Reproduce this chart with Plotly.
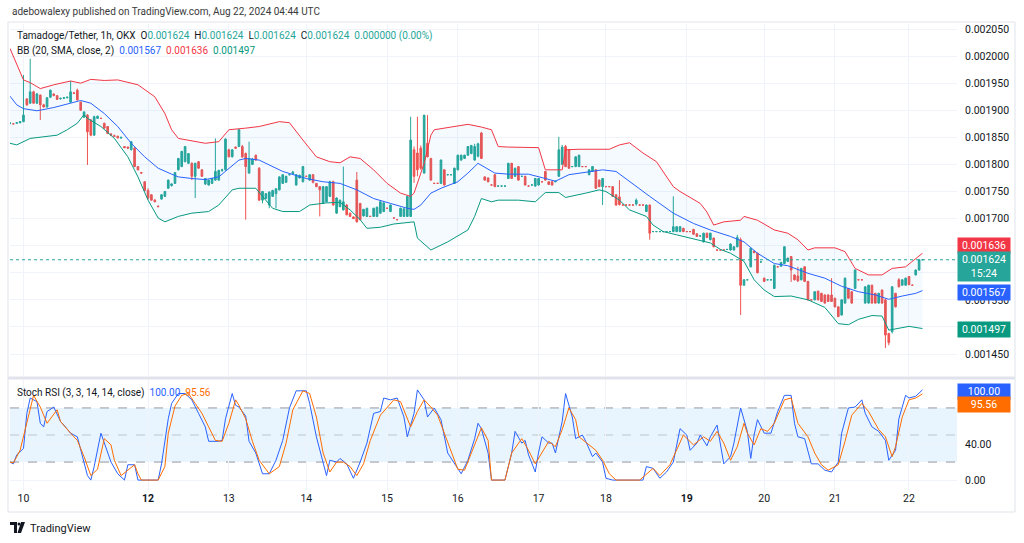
import numpy as np
import plotly.graph_objects as go

# ---------------- data (prices in units of 1e-6 USDT) ----------------
PRICE_UNIT = 1e-6

OPEN = [1876,1875,1876,1877,1879,1921,1913,1934,1913,1928,
        1910,1906,1924,1930,1927,1921,1922,1923,1915,1932,
        1937,1915,1887,1891,1882,1854,1885,1885,1876,1870,
        1856,1853,1852,1849,1833,1832,1827,1830,1796,1785,
        1768,1752,1744,1734,1723,1736,1741,1756,1761,1765,
        1790,1796,1805,1802,1802,1778,1805,1790,1764,1762,
        1765,1771,1771,1789,1790,1827,1814,1832,1833,1833,
        1820,1784,1800,1817,1793,1734,1737,1725,1741,1746,
        1753,1765,1767,1781,1783,1762,1775,1768,1778,1771,
        1781,1765,1759,1728,1731,1741,1768,1710,1722,1716,
        1725,1710,1703,1771,1728,1705,1704,1704,1704,1704,
        1710,1713,1719,1713,1701,1698,1704,1704,1704,1704,
        1827,1821,1830,1784,1839,1811,1765,1765,1765,1790,
        1781,1781,1765,1790,1808,1811,1817,1820,1808,1815,
        1858,1777,1775,1762,1781,1760,1760,1760,1774,1802,
        1778,1796,1778,1778,1760,1762,1760,1762,1768,1787,
        1768,1768,1768,1778,1800,1833,1827,1796,1796,1796,
        1796,1796,1781,1787,1790,1771,1759,1759,1759,1759,
        1744,1740,1725,1725,1725,1725,1727,1725,1725,1713,
        1725,1676,1676,1676,1676,1676,1676,1676,1676,1676,
        1682,1676,1676,1680,1672,1668,1657,1673,1661,1664,
        1642,1642,1642,1643,1642,1642,1648,1661,1577,1587,
        1611,1640,1636,1620,1590,1587,1587,1571,1611,1612,
        1617,1621,1630,1596,1594,1587,1611,1584,1550,1550,
        1566,1562,1559,1559,1559,1553,1537,1522,1544,1571,
        1565,1571,1587,1587,1544,1544,1577,1562,1544,1568,
        1550,1488,1491,1562,1587,1577,1577,1593,1577,1596,
        1605,1624]
HIGH = [1878,1876,1878,1880,1965,1922,1995,1936,1932,1929,
        1912,1924,1938,1931,1928,1923,1924,1925,1954,1934,
        1940,1916,1898,1893,1884,1890,1890,1886,1877,1871,
        1858,1855,1853,1851,1834,1833,1843,1832,1797,1786,
        1769,1756,1745,1736,1724,1745,1751,1772,1765,1786,
        1812,1825,1834,1821,1804,1803,1806,1791,1775,1772,
        1775,1848,1790,1792,1848,1829,1828,1833,1865,1836,
        1822,1842,1812,1818,1795,1751,1747,1750,1753,1756,
        1778,1782,1779,1782,1788,1782,1781,1797,1779,1782,
        1782,1766,1760,1760,1760,1770,1770,1739,1735,1796,
        1727,1711,1704,1786,1729,1718,1720,1705,1720,1722,
        1732,1730,1720,1726,1702,1699,1720,1719,1742,1888,
        1833,1888,1835,1891,1891,1812,1766,1766,1809,1791,
        1782,1782,1794,1818,1818,1818,1834,1836,1838,1840,
        1860,1778,1776,1763,1782,1761,1761,1761,1803,1803,
        1794,1797,1779,1779,1761,1763,1775,1775,1769,1788,
        1769,1769,1770,1851,1836,1836,1828,1797,1815,1818,
        1797,1797,1791,1797,1791,1772,1775,1760,1760,1760,
        1745,1771,1726,1726,1726,1726,1737,1726,1726,1726,
        1726,1677,1677,1677,1677,1677,1677,1741,1686,1686,
        1683,1677,1677,1681,1673,1669,1674,1674,1674,1665,
        1643,1643,1643,1644,1654,1648,1670,1665,1588,1588,
        1646,1641,1637,1621,1591,1588,1588,1615,1612,1620,
        1649,1628,1631,1597,1611,1609,1612,1585,1551,1566,
        1567,1563,1560,1560,1590,1554,1538,1551,1591,1572,
        1566,1606,1588,1588,1575,1578,1578,1563,1563,1569,
        1552,1489,1575,1563,1590,1588,1591,1594,1578,1606,
        1625,1624]
LOW = [1874,1874,1875,1876,1878,1908,1912,1912,1912,1882,
       1905,1905,1923,1926,1919,1920,1921,1922,1914,1930,
       1918,1899,1886,1799,1852,1853,1884,1884,1866,1856,
       1853,1851,1848,1847,1830,1829,1826,1795,1789,1783,
       1750,1735,1733,1730,1721,1735,1740,1755,1759,1764,
       1789,1795,1804,1801,1771,1738,1792,1777,1762,1761,
       1764,1770,1770,1786,1789,1813,1813,1829,1832,1812,
       1698,1783,1799,1807,1733,1728,1736,1719,1740,1719,
       1752,1764,1766,1780,1781,1761,1774,1767,1777,1770,
       1765,1758,1704,1727,1730,1740,1724,1709,1721,1715,
       1706,1703,1699,1693,1697,1704,1703,1703,1703,1703,
       1709,1712,1718,1712,1700,1697,1703,1703,1703,1703,
       1766,1778,1790,1783,1813,1770,1764,1764,1764,1761,
       1780,1780,1764,1789,1807,1810,1816,1819,1807,1813,
       1810,1770,1767,1761,1758,1759,1759,1759,1773,1773,
       1777,1770,1777,1761,1759,1761,1759,1761,1767,1770,
       1762,1761,1767,1777,1799,1795,1792,1795,1795,1795,
       1795,1795,1780,1786,1755,1758,1725,1758,1758,1740,
       1724,1724,1724,1724,1724,1724,1724,1724,1724,1712,
       1661,1675,1675,1675,1675,1675,1675,1675,1675,1675,
       1675,1675,1675,1670,1666,1667,1656,1664,1660,1647,
       1641,1641,1641,1642,1641,1641,1647,1522,1576,1586,
       1610,1636,1599,1619,1583,1586,1586,1570,1610,1611,
       1616,1620,1583,1586,1583,1586,1583,1549,1549,1549,
       1549,1546,1543,1546,1546,1536,1518,1521,1543,1552,
       1543,1570,1586,1586,1543,1543,1543,1543,1543,1543,
       1461,1466,1488,1536,1573,1576,1576,1577,1576,1595,
       1604,1624]
CLOSE = [1876,1875,1877,1879,1891,1910,1934,1913,1930,1910,
         1906,1923,1937,1927,1920,1922,1923,1924,1934,1931,
         1919,1900,1897,1860,1854,1888,1889,1885,1867,1857,
         1854,1852,1849,1850,1831,1830,1842,1796,1790,1784,
         1752,1738,1734,1731,1722,1744,1750,1771,1764,1785,
         1811,1824,1833,1820,1778,1802,1793,1778,1774,1771,
         1774,1787,1789,1790,1847,1814,1827,1830,1864,1814,
         1796,1811,1810,1808,1734,1750,1746,1749,1752,1755,
         1777,1781,1778,1781,1786,1781,1780,1796,1778,1781,
         1767,1759,1753,1759,1759,1768,1725,1738,1734,1731,
         1707,1704,1700,1694,1698,1717,1719,1704,1719,1721,
         1731,1729,1719,1725,1701,1698,1719,1718,1741,1845,
         1778,1790,1793,1891,1814,1771,1765,1765,1808,1762,
         1781,1781,1793,1817,1817,1817,1833,1835,1833,1838,
         1811,1771,1768,1762,1759,1760,1760,1760,1802,1774,
         1793,1771,1778,1762,1760,1762,1774,1774,1768,1771,
         1763,1762,1769,1827,1832,1796,1793,1796,1814,1817,
         1796,1796,1790,1796,1756,1759,1774,1759,1759,1741,
         1725,1726,1725,1725,1725,1725,1734,1725,1725,1725,
         1673,1676,1676,1676,1676,1676,1676,1685,1685,1685,
         1676,1676,1676,1671,1667,1668,1673,1665,1673,1648,
         1642,1642,1642,1643,1653,1648,1665,1577,1587,1587,
         1645,1637,1600,1620,1584,1587,1587,1614,1611,1619,
         1648,1627,1605,1587,1585,1608,1584,1550,1550,1565,
         1550,1547,1544,1547,1547,1537,1519,1550,1590,1553,
         1544,1605,1587,1587,1574,1577,1544,1544,1562,1544,
         1485,1471,1574,1537,1574,1587,1590,1578,1577,1605,
         1624,1624]

# Bollinger Bands (20, SMA, close, 2): (bar index, value)
BB_UPPER_X = [0,2,4,6,9,13,18,21,24,28,32,38,43,46,48,50,53,58,62,65,70,74,80,83,87,91,95,98,101,104,
              108,112,116,119,120,123,125,126,131,136,140,143,145,148,157,159,164,165,169,178,181,184,188,
              192,197,199,205,207,209,212,217,218,222,227,231,234,237,239,245,248,251,255,259,262,266,269,271]
BB_UPPER = [2014,1985,1956,1951,1940,1947,1954,1950,1957,1955,1956,1947,1925,1894,1864,1848,1845,1839,1842,1864,
            1867,1870,1879,1877,1845,1814,1805,1803,1814,1811,1790,1765,1747,1741,1747,1802,1854,1864,1869,1874,
            1869,1864,1833,1832,1831,1790,1790,1827,1828,1828,1836,1840,1821,1805,1759,1750,1728,1712,1688,1694,
            1697,1704,1697,1679,1673,1661,1642,1646,1646,1639,1608,1596,1596,1608,1611,1627,1636]
BB_MID_X = [0,2,4,8,13,18,21,24,28,32,36,40,44,48,50,54,58,62,64,68,70,74,81,88,93,98,103,108,113,118,
            120,122,125,128,133,136,139,144,148,154,159,162,166,173,176,180,184,190,197,203,208,214,218,222,
            227,231,237,242,247,252,257,261,265,269,271]
BB_MID = [1926,1910,1903,1899,1905,1914,1918,1913,1894,1870,1839,1814,1793,1782,1777,1774,1772,1777,1787,1808,
          1811,1808,1787,1774,1768,1765,1753,1737,1728,1719,1717,1725,1747,1756,1768,1784,1802,1784,1782,1782,
          1774,1769,1781,1787,1790,1787,1768,1741,1710,1691,1679,1667,1657,1636,1617,1613,1599,1590,1575,1565,
          1559,1551,1557,1562,1567]
BB_LOWER_X = [0,2,6,10,14,17,20,22,23,27,31,35,38,41,44,46,50,54,59,62,66,68,73,75,78,81,86,89,94,98,
              101,104,106,110,114,120,121,125,130,136,138,140,143,145,151,156,159,163,165,171,175,177,181,184,
              189,191,194,198,203,206,208,211,214,218,221,224,227,232,237,242,246,249,252,256,259,261,264,267,271]
BB_LOWER = [1839,1836,1848,1851,1854,1864,1876,1892,1885,1870,1848,1814,1777,1734,1701,1694,1704,1710,1713,1725,
            1753,1756,1756,1741,1719,1713,1713,1725,1729,1730,1716,1698,1682,1684,1690,1694,1664,1642,1657,1679,
            1704,1737,1731,1734,1734,1731,1748,1748,1739,1747,1753,1750,1734,1716,1704,1688,1676,1670,1662,1658,
            1655,1643,1636,1621,1587,1568,1556,1557,1550,1536,1506,1504,1514,1521,1520,1494,1497,1501,1497]

# Stoch RSI (3, 3, 14, 14, close): K (blue) and D (orange)
K_X = [0,1,2,4,5,6,8,9,10,11,13,14,15,16,18,20,21,23,24,25,27,28,30,32,34,35,37,38,44,45,
       47,48,50,52,54,56,58,59,62,63,64,66,67,68,70,71,73,75,77,79,81,83,85,88,89,91,94,95,97,98,
       100,102,104,106,108,110,111,113,115,117,118,120,121,123,124,126,128,130,132,134,136,138,139,140,142,143,147,149,150,152,
       153,154,156,157,158,160,161,162,164,165,167,168,170,171,173,174,176,177,179,188,189,191,193,195,197,199,201,202,204,205,
       207,208,210,211,212,214,215,217,219,220,221,222,224,226,228,230,232,233,234,236,238,240,242,244,246,247,249,251,253,254,
       256,258,260,261,263,264,266,267,269,271]
K_V = [20,18,28,35,74,91,87,63,59,76,81,72,65,61,52,48,33,5,0,15,52,41,20,7,0,17,17,0,0,18,
       68,85,96,96,89,74,59,43,43,44,68,96,83,81,71,43,30,7,7,22,44,80,99,99,85,48,5,22,20,24,
       18,2,20,41,74,76,91,89,91,70,48,74,100,89,70,80,67,30,18,7,22,46,63,57,30,0,0,30,54,41,
       44,28,9,31,48,41,41,30,65,96,70,46,50,43,26,30,20,2,0,0,15,13,2,9,20,57,50,33,41,50,
       38,48,61,37,18,26,41,80,54,24,50,67,52,52,76,94,94,63,48,46,18,18,11,9,20,52,80,81,89,74,
       59,54,44,22,33,68,94,91,93,100.00]
D_X = [0,1,3,5,7,9,11,14,15,18,20,22,24,26,28,30,31,33,35,37,38,39,44,46,47,49,51,53,55,57,
       59,61,63,65,67,68,70,72,74,77,80,82,84,87,89,91,93,95,97,99,101,103,105,107,110,112,114,116,118,119,
       121,123,125,127,129,131,133,135,137,140,142,143,147,149,152,154,156,158,160,162,164,166,168,169,172,174,176,178,180,187,
       191,193,196,198,200,203,206,208,210,212,214,216,218,219,221,223,225,227,230,232,234,237,239,241,243,246,248,250,253,255,
       258,260,262,263,265,267,269,271]
D_V = [20,19,33,63,94,81,63,78,65,52,44,26,5,12,46,39,22,5,11,17,7,0,0,15,52,82,94,96,85,74,
       59,44,43,63,89,83,68,43,22,7,15,41,78,99,96,70,30,9,20,20,15,5,18,44,72,80,89,87,67,59,
       76,89,81,72,52,33,12,11,30,58,44,0,0,30,46,33,18,30,43,37,56,80,67,48,39,33,22,7,0,0,
       13,5,17,33,50,39,48,43,54,41,22,37,63,52,39,57,54,63,89,91,63,48,30,17,11,17,43,72,85,76,
       56,48,26,37,70,89,91,95.56]

# x-axis day labels (bar index where each day starts)
DAY_TICKS = [4, 41, 65, 88, 112, 133, 157, 177, 201, 224, 245, 267]
DAY_LABELS = ["10", "<b>12</b>", "13", "14", "15", "16", "17", "18", "<b>19</b>", "20", "21", "22"]

PRICE_TICKS = [1450, 1500, 1550, 1600, 1650, 1700, 1750, 1800, 1850, 1900, 1950, 2000, 2050]
PRICE_TICKS_COVERED = [1500, 1600, 1650]   # labels hidden behind the value boxes

# ---------------- styling constants ----------------
W, H = 1024, 543
L_PX, R_PX, T_PX, B_PX = 10, 957, 24, 490
UP = "#26a69a"
DOWN = "#ef5350"
TEXT = "#131722"
GRID = "#f0f3fa"
FONT = "Roboto, Liberation Sans, sans-serif"
FS = 10


def pxx(px):
    return (px - L_PX) / (R_PX - L_PX)


def pxy(py):
    return (B_PX - py) / (B_PX - T_PX)


def scale(v):
    return np.array(v, dtype=float) * PRICE_UNIT


xs = np.arange(len(CLOSE))
o, h, l, c = scale(OPEN), scale(HIGH), scale(LOW), scale(CLOSE)
up_y, mid_y, low_y = scale(BB_UPPER), scale(BB_MID), scale(BB_LOWER)

X_MAX = (R_PX - L_PX) / 3.367

fig = go.Figure()

# BB background fill
fig.add_trace(go.Scatter(
    x=list(BB_UPPER_X) + list(BB_LOWER_X)[::-1],
    y=list(up_y) + list(low_y)[::-1],
    fill="toself", fillcolor="rgba(33,150,243,0.05)", line=dict(width=0),
    mode="lines", hoverinfo="skip", showlegend=False))
fig.add_trace(go.Scatter(x=BB_UPPER_X, y=up_y, mode="lines",
                         line=dict(color="#F23645", width=1), showlegend=False))
fig.add_trace(go.Scatter(x=BB_LOWER_X, y=low_y, mode="lines",
                         line=dict(color="#089981", width=1), showlegend=False))
fig.add_trace(go.Scatter(x=BB_MID_X, y=mid_y, mode="lines",
                         line=dict(color="#2962FF", width=1), showlegend=False))

fig.add_trace(go.Candlestick(
    x=xs, open=o, high=h, low=l, close=c,
    increasing=dict(line=dict(color=UP, width=1), fillcolor=UP),
    decreasing=dict(line=dict(color=DOWN, width=1), fillcolor=DOWN),
    whiskerwidth=0, showlegend=False))

fig.add_trace(go.Scatter(x=K_X, y=K_V, xaxis="x2", yaxis="y2", mode="lines",
                         line=dict(color="#2962FF", width=1), showlegend=False))
fig.add_trace(go.Scatter(x=D_X, y=D_V, xaxis="x2", yaxis="y2", mode="lines",
                         line=dict(color="#FF6D00", width=1), showlegend=False))

top_price = 2050 + (29 - T_PX) * (600 / 325)
bot_price = 2050 - (376 - 29) * (600 / 325)

shapes = []
# outer frame
shapes.append(dict(type="rect", xref="paper", yref="paper",
                   x0=pxx(8), x1=pxx(1015), y0=pxy(512), y1=pxy(22),
                   line=dict(color="#e0e3eb", width=1), fillcolor="rgba(0,0,0,0)", layer="above"))
# pane separator
shapes.append(dict(type="line", xref="paper", yref="paper",
                   x0=pxx(8), x1=pxx(1015), y0=pxy(378), y1=pxy(378),
                   line=dict(color="#e0e3eb", width=3), layer="above"))
# stoch band
shapes.append(dict(type="rect", xref="paper", yref="y2", x0=0, x1=1, y0=20, y1=80,
                   fillcolor="rgba(33,150,243,0.1)", line=dict(width=0), layer="below"))
for lvl, col in [(80, "#9598a1"), (50, "rgba(149,152,161,0.5)"), (20, "#9598a1")]:
    shapes.append(dict(type="line", xref="paper", yref="y2", x0=0, x1=1, y0=lvl, y1=lvl,
                       line=dict(color=col, width=1, dash="dash"), layer="below"))
# current price dotted line
shapes.append(dict(type="line", xref="paper", yref="y", x0=0, x1=1,
                   y0=c[-1], y1=c[-1], line=dict(color=UP, width=1, dash="dot")))
# TradingView logo mark
shapes.append(dict(type="path", xref="paper", yref="paper",
                   path=f"M {pxx(10)},{pxy(522)} L {pxx(17)},{pxy(522)} L {pxx(17)},{pxy(533)} L {pxx(14)},{pxy(533)} L {pxx(14)},{pxy(525)} L {pxx(10)},{pxy(525)} Z",
                   fillcolor=TEXT, line=dict(width=0)))
shapes.append(dict(type="circle", xref="paper", yref="paper",
                   x0=pxx(17.5), x1=pxx(20.5), y0=pxy(525.5), y1=pxy(522.5),
                   fillcolor=TEXT, line=dict(width=0)))
shapes.append(dict(type="path", xref="paper", yref="paper",
                   path=f"M {pxx(21)},{pxy(522)} L {pxx(25)},{pxy(522)} L {pxx(21)},{pxy(533)} L {pxx(17.5)},{pxy(533)} Z",
                   fillcolor=TEXT, line=dict(width=0)))


def span(txt, col):
    return f'<span style="color:{col}">{txt}</span>'


def fmt(v):
    return f"{v * PRICE_UNIT:.6f}"


chg = CLOSE[-1] - CLOSE[-2]
pct = chg / CLOSE[-2] * 100
sp = "\u00a0\u00a0"
line1 = ("Tamadoge/Tether, 1h, OKX" + sp + "O" + span(fmt(OPEN[-1]), UP) + sp + "H" + span(fmt(HIGH[-1]), UP)
         + sp + "L" + span(fmt(LOW[-1]), UP) + sp + "C" + span(fmt(CLOSE[-1]), UP) + sp
         + span(f"{chg * PRICE_UNIT:.6f} ({pct:.2f}%)", UP))
line2 = ("BB (20, SMA, close, 2)" + sp + span(fmt(BB_MID[-1]), "#2962FF") + sp
         + span(fmt(BB_UPPER[-1]), "#F23645") + sp + span(fmt(BB_LOWER[-1]), "#089981"))
line3 = ("Stoch RSI (3, 3, 14, 14, close)" + sp + span(f"{K_V[-1]:.2f}", "#2962FF") + sp
         + span(f"{D_V[-1]:.2f}", "#FF6D00"))

ann = []
ann.append(dict(xref="paper", yref="paper", x=pxx(10), y=pxy(12), xanchor="left", yanchor="middle",
                text="adebowalexy published on TradingView.com, Aug 22, 2024 04:44 UTC",
                showarrow=False, font=dict(family=FONT, size=FS, color="#3a3a3a")))
ann.append(dict(xref="paper", yref="paper", x=pxx(15), y=pxy(36), xanchor="left", yanchor="middle",
                text=line1, showarrow=False, font=dict(family=FONT, size=FS, color=TEXT)))
ann.append(dict(xref="paper", yref="paper", x=pxx(15), y=pxy(51), xanchor="left", yanchor="middle",
                text=line2, showarrow=False, font=dict(family=FONT, size=FS, color=TEXT)))
ann.append(dict(xref="paper", yref="paper", x=pxx(15), y=pxy(393), xanchor="left", yanchor="middle",
                text=line3, showarrow=False, font=dict(family=FONT, size=FS, color=TEXT)))
ann.append(dict(xref="paper", yref="paper", x=pxx(28), y=pxy(528), xanchor="left", yanchor="middle",
                text="TradingView", showarrow=False, font=dict(family=FONT, size=11, color=TEXT)))


def box(yref, yval, text, col, shift=0):
    return dict(xref="paper", yref=yref, x=1.0, y=yval, xanchor="left", yanchor="middle",
                text=text, showarrow=False, bgcolor=col, borderpad=1, width=50, align="center",
                yshift=shift, font=dict(family=FONT, size=10.5, color="white"))


ann.append(box("y", up_y[-1], fmt(BB_UPPER[-1]), "#F23645", 8))
ann.append(box("y", c[-1], fmt(CLOSE[-1]) + "<br>15:24", UP, -7))
ann.append(box("y", mid_y[-1], fmt(BB_MID[-1]), "#2962FF", -2))
ann.append(box("y", low_y[-1], fmt(BB_LOWER[-1]), "#089981", -1))
ann.append(box("y2", K_V[-1], f"{K_V[-1]:.2f}", "#2962FF", -2))
ann.append(box("y2", D_V[-1], f"{D_V[-1]:.2f}", "#FF6D00", -11))

price_text = ["" if t in PRICE_TICKS_COVERED else fmt(t) for t in PRICE_TICKS]

fig.update_layout(
    width=W, height=H, paper_bgcolor="white", plot_bgcolor="white",
    margin=dict(l=L_PX, r=W - R_PX, t=T_PX, b=H - B_PX, pad=0, autoexpand=False),
    showlegend=False, hovermode=False,
    font=dict(family=FONT, size=FS, color=TEXT),
    xaxis=dict(domain=[0, 1], anchor="y", range=[0, X_MAX], tickvals=DAY_TICKS, showticklabels=False,
               showgrid=True, gridcolor=GRID, zeroline=False, showline=False, ticks="",
               rangeslider=dict(visible=False)),
    xaxis2=dict(domain=[0, 1], anchor="y2", range=[0, X_MAX], tickvals=DAY_TICKS, ticktext=DAY_LABELS,
                showgrid=True, gridcolor=GRID, zeroline=False, showline=False, ticks="",
                tickfont=dict(family=FONT, size=10.5, color=TEXT)),
    yaxis=dict(domain=[(B_PX - 376) / (B_PX - T_PX), 1], anchor="x", side="right",
               range=[bot_price * PRICE_UNIT, top_price * PRICE_UNIT],
               tickvals=scale(PRICE_TICKS), ticktext=price_text, showgrid=True, gridcolor=GRID,
               zeroline=False, showline=False, ticks="", ticklabelstandoff=7,
               tickfont=dict(family=FONT, size=10.5, color=TEXT)),
    yaxis2=dict(domain=[0, (B_PX - 380) / (B_PX - T_PX)], anchor="x2", side="right",
                range=[-11, 111], tickvals=[0, 40], ticktext=["0.00", "40.00"], showgrid=True, gridcolor=GRID,
                zeroline=False, showline=False, ticks="", ticklabelstandoff=7,
                tickfont=dict(family=FONT, size=10.5, color=TEXT)),
    shapes=shapes, annotations=ann,
)

fig.write_html("out.html", config={"displayModeBar": False},
               post_script="document.body.style.margin='0px';")
